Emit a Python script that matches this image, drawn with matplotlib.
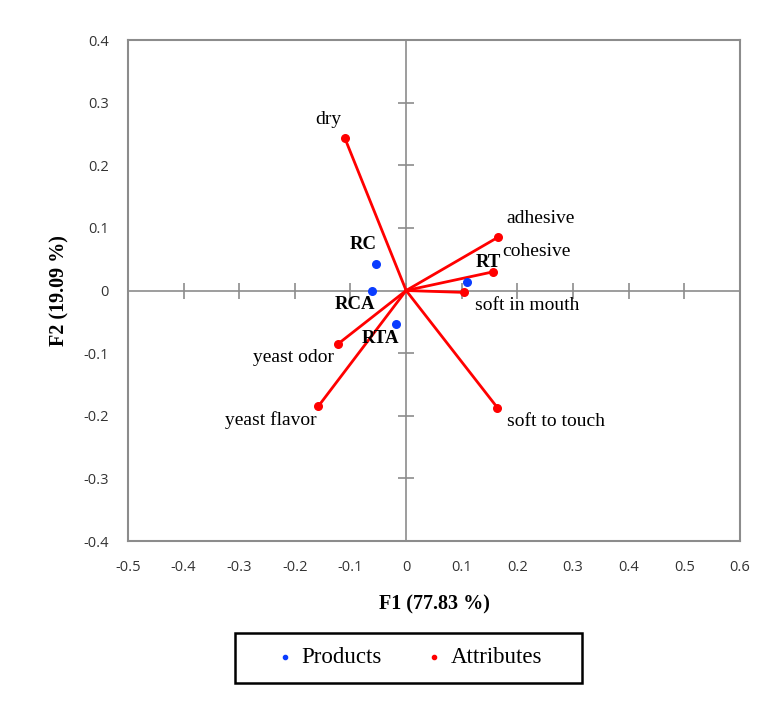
import matplotlib

matplotlib.use("Agg")
import matplotlib.pyplot as plt
import numpy as np
from matplotlib.patches import Rectangle

# PCA biplot scores
products = ["RC", "RCA", "RTA", "RT"]
prod_f1 = [-0.054, -0.062, -0.018, 0.110]
prod_f2 = [0.042, 0.000, -0.054, 0.013]

attributes = ["dry", "adhesive", "cohesive", "soft in mouth",
              "soft to touch", "yeast flavor", "yeast odor"]
attr_f1 = [-0.110, 0.165, 0.157, 0.104, 0.164, -0.158, -0.122]
attr_f2 = [0.243, 0.085, 0.030, -0.003, -0.187, -0.185, -0.085]

x_ticks = np.round(np.arange(-0.5, 0.61, 0.1), 1) + 0.0
y_ticks = np.round(np.arange(-0.4, 0.41, 0.1), 1) + 0.0

# label offsets in pixels (layout only)
prod_offsets = {"RC": (-13, 20), "RCA": (-17, -14), "RTA": (-16, -14), "RT": (21, 20)}
attr_offsets = {
    "dry": (-17, 19), "adhesive": (43, 19), "cohesive": (43, 20),
    "soft in mouth": (63, -13), "soft to touch": (59, -14),
    "yeast flavor": (-47, -14), "yeast odor": (-45, -14),
}

RED = "#ff0000"
BLUE = "#0a3cff"
GRAY = "#8c8c8c"
SERIF = ["Liberation Serif", "DejaVu Serif"]
SANS = ["Open Sans", "DejaVu Sans"]


def tick_text(v):
    return "0" if abs(v) < 1e-9 else f"{v:g}"


fig = plt.figure(figsize=(7.69, 7.02), dpi=100)
ax = fig.add_axes([0.1664, 0.2293, 0.7958, 0.7137])
ax.set_xlim(-0.5, 0.6)
ax.set_ylim(-0.4, 0.4)

for s in ax.spines.values():
    s.set_color(GRAY)
    s.set_linewidth(1.5)

# axes through the origin with crossing tick marks
ax.axhline(0, color=GRAY, lw=1.2, zorder=1)
ax.axvline(0, color=GRAY, lw=1.2, zorder=1)
ax.plot(x_ticks, np.zeros_like(x_ticks), ls="none", marker="|", ms=12,
        mew=1.2, color=GRAY, zorder=1, clip_on=False)
ax.plot(np.zeros_like(y_ticks), y_ticks, ls="none", marker="_", ms=12,
        mew=1.2, color=GRAY, zorder=1, clip_on=False)

ax.set_xticks(x_ticks)
ax.set_yticks(y_ticks)
ax.set_xticklabels([tick_text(v) for v in x_ticks], family=SANS, fontsize=10.5, color="#333333")
ax.set_yticklabels([tick_text(v) for v in y_ticks], family=SANS, fontsize=10.5, color="#333333")
ax.tick_params(length=0, pad=14)

# attribute vectors
for x, y in zip(attr_f1, attr_f2):
    ax.plot([0, x], [0, y], color=RED, lw=2, zorder=2)
ax.scatter(attr_f1, attr_f2, s=30, color=RED, zorder=3, label="Attributes")
ax.scatter(prod_f1, prod_f2, s=30, color=BLUE, zorder=3, label="Products")

for name, x, y in zip(attributes, attr_f1, attr_f2):
    ax.annotate(name, (x, y), xytext=attr_offsets[name], textcoords="offset pixels",
                ha="center", va="center", family=SERIF, fontsize=14)
for name, x, y in zip(products, prod_f1, prod_f2):
    ax.annotate(name, (x, y), xytext=prod_offsets[name], textcoords="offset pixels",
                ha="center", va="center", family=SERIF, fontsize=13.5, fontweight="bold")

ax.set_xlabel("F1 (77.83 %)", family=SERIF, fontsize=14.5, fontweight="bold", labelpad=14)
ax.set_ylabel("F2 (19.09 %)", family=SERIF, fontsize=14.5, fontweight="bold", labelpad=10)

# legend entries without frame, plus a wider box like the original
handles, labels = ax.get_legend_handles_labels()
fig.legend(handles[::-1], labels[::-1], loc="center", bbox_to_anchor=(0.532, 0.063),
           ncol=2, frameon=False, markerscale=0.55,
           handlelength=0.8, handletextpad=0.3, columnspacing=1.9,
           borderaxespad=0.0, prop={"family": SERIF, "size": 16.5})
fig.patches.append(Rectangle((0.3056, 0.0271), 0.4512, 0.0712, transform=fig.transFigure,
                             fill=False, edgecolor="black", linewidth=1.8))

fig.savefig("out.png", dpi=100)
